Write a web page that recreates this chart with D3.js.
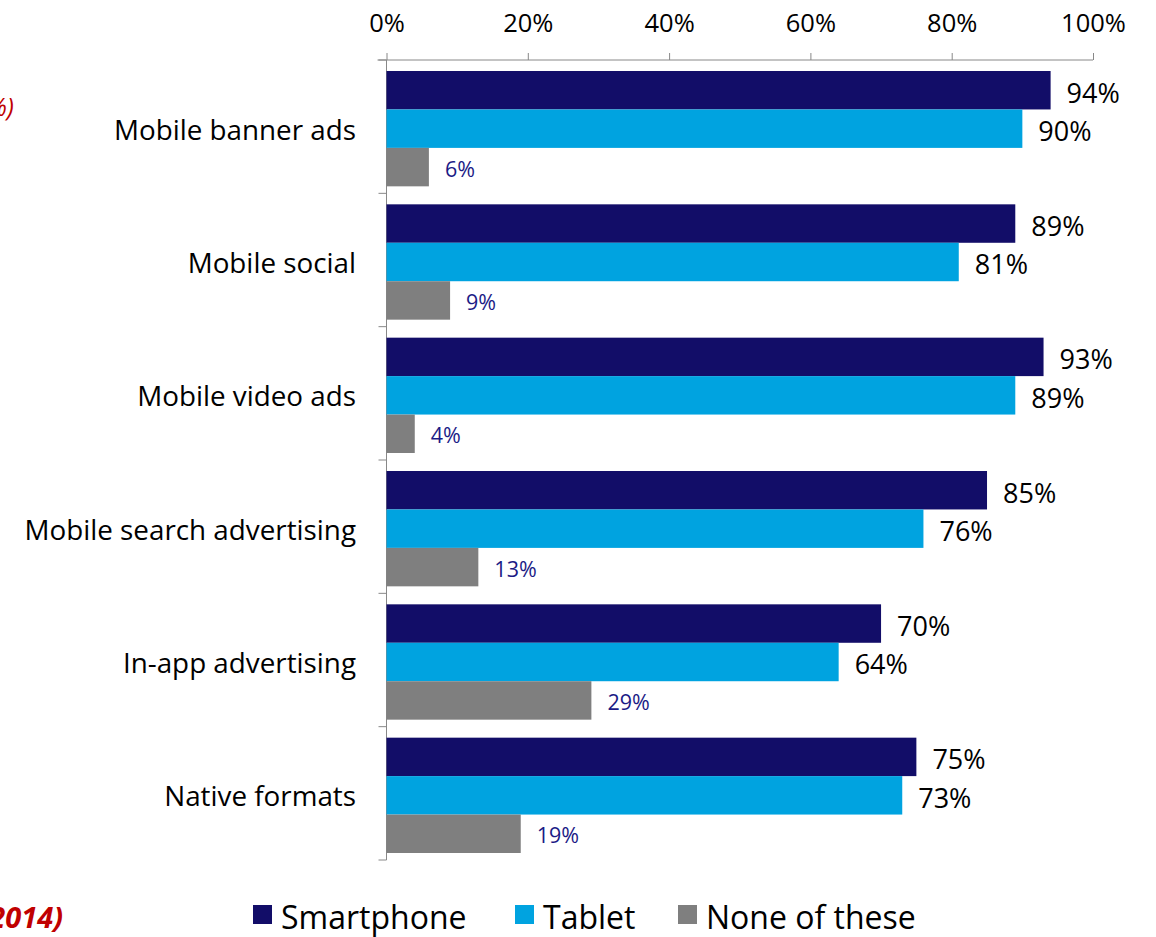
<!DOCTYPE html>
<html>
<head>
<meta charset="utf-8">
<script src="https://cdn.jsdelivr.net/npm/d3@7"></script>
<style>
  html, body { margin: 0; padding: 0; background: #fff; }
  svg { display: block; }
  text { font-family: "Open Sans", "Liberation Sans", sans-serif; }
</style>
</head>
<body>
<svg id="chart" width="1156" height="937"></svg>
<script>
// Ad formats and share of respondents per device
const categories = ["Mobile banner ads", "Mobile social", "Mobile video ads",
                    "Mobile search advertising", "In-app advertising", "Native formats"];
const seriesNames = ["Smartphone", "Tablet", "None of these"];
const smartphone = [94, 89, 93, 85, 70, 75];
const tablet     = [90, 81, 89, 76, 64, 73];
const noneOfThese = [6, 9, 4, 13, 29, 19];
const xTicks = [0, 20, 40, 60, 80, 100];
const colors = ["#120d68", "#00a3e0", "#7f7f7f"];

const values = [smartphone, tablet, noneOfThese];
const rows = categories.map((c, i) => ({
  category: c,
  bars: seriesNames.map((s, k) => ({ series: s, k, value: values[k][i] }))
}));

const svg = d3.select("#chart");
const plotLeft = 386.5, plotRight = 1093, plotTop = 60, plotBottom = 860;

const x = d3.scaleLinear().domain([0, 100]).range([plotLeft, plotRight]);
const y = d3.scaleBand().domain(categories).range([plotTop, plotBottom]).paddingInner(0).paddingOuter(0);
const inner = d3.scaleBand().domain(seriesNames).range([11, y.bandwidth() - 7]).padding(0);

// Top axis
const axisG = svg.append("g").attr("transform", `translate(0,${plotTop})`)
  .call(d3.axisTop(x).tickValues(xTicks).tickFormat(d => d + "%").tickSize(7).tickSizeOuter(0));
axisG.select(".domain").attr("stroke", "#888").attr("d", `M${plotLeft - 9},0H${plotRight}`);
axisG.selectAll(".tick line").attr("stroke", "#888");
axisG.selectAll(".tick text").attr("font-size", 25.5).attr("fill", "#000")
  .attr("font-family", "'Open Sans', sans-serif").attr("y", 0).attr("dy", 0)
  .attr("transform", "translate(0,-38)").attr("dominant-baseline", "central");

// Left axis with category labels
const catBounds = d3.range(categories.length + 1).map(i => plotTop + i * y.step());
svg.append("line").attr("x1", plotLeft).attr("x2", plotLeft).attr("y1", plotTop).attr("y2", plotBottom)
  .attr("stroke", "#888");
svg.selectAll(".ctick").data(catBounds).join("line")
  .attr("x1", plotLeft - 8).attr("x2", plotLeft).attr("y1", d => d).attr("y2", d => d)
  .attr("stroke", "#888");

svg.selectAll(".cat").data(categories).join("text")
  .attr("x", 356).attr("y", d => y(d) + y.bandwidth() / 2 + 2)
  .attr("text-anchor", "end").attr("dominant-baseline", "central")
  .attr("font-size", 27.8).attr("fill", "#000").text(d => d);

// Bars
const groups = svg.selectAll(".grp").data(rows).join("g")
  .attr("transform", d => `translate(0,${y(d.category)})`);

groups.selectAll("rect").data(d => d.bars).join("rect")
  .attr("x", x(0)).attr("y", d => inner(d.series))
  .attr("width", d => x(d.value) - x(0)).attr("height", inner.bandwidth())
  .attr("fill", d => colors[d.k]);

groups.selectAll(".lbl").data(d => d.bars).join("text")
  .attr("x", d => x(d.value) + 16)
  .attr("y", d => inner(d.series) + inner.bandwidth() / 2 + (d.k === 2 ? 1 : 2))
  .attr("dominant-baseline", "central")
  .attr("font-size", d => d.k === 2 ? 21.5 : 27)
  .attr("fill", d => d.k === 2 ? "#1b1b86" : "#000")
  .text(d => d.value + "%");

// Legend
const legendX = [253, 515, 678];
const leg = svg.selectAll(".leg").data(seriesNames).join("g")
  .attr("transform", (d, i) => `translate(${legendX[i]},905)`);
leg.append("rect").attr("width", 19).attr("height", 19).attr("fill", (d, i) => colors[i]);
leg.append("text").attr("x", 28).attr("y", 11).attr("dominant-baseline", "central")
  .attr("font-size", 32).attr("fill", "#000").text(d => d);

// Notes running off the left edge
svg.append("text").attr("x", 14).attr("y", 106).attr("text-anchor", "end")
  .attr("dominant-baseline", "central").attr("font-style", "italic")
  .attr("font-size", 25).attr("fill", "#c00000").text("(in %)");
svg.append("text").attr("x", 63).attr("y", 916).attr("text-anchor", "end")
  .attr("dominant-baseline", "central").attr("font-style", "italic").attr("font-weight", "bold")
  .attr("font-size", 29).attr("fill", "#c00000").text("(2014)");
</script>
</body>
</html>
